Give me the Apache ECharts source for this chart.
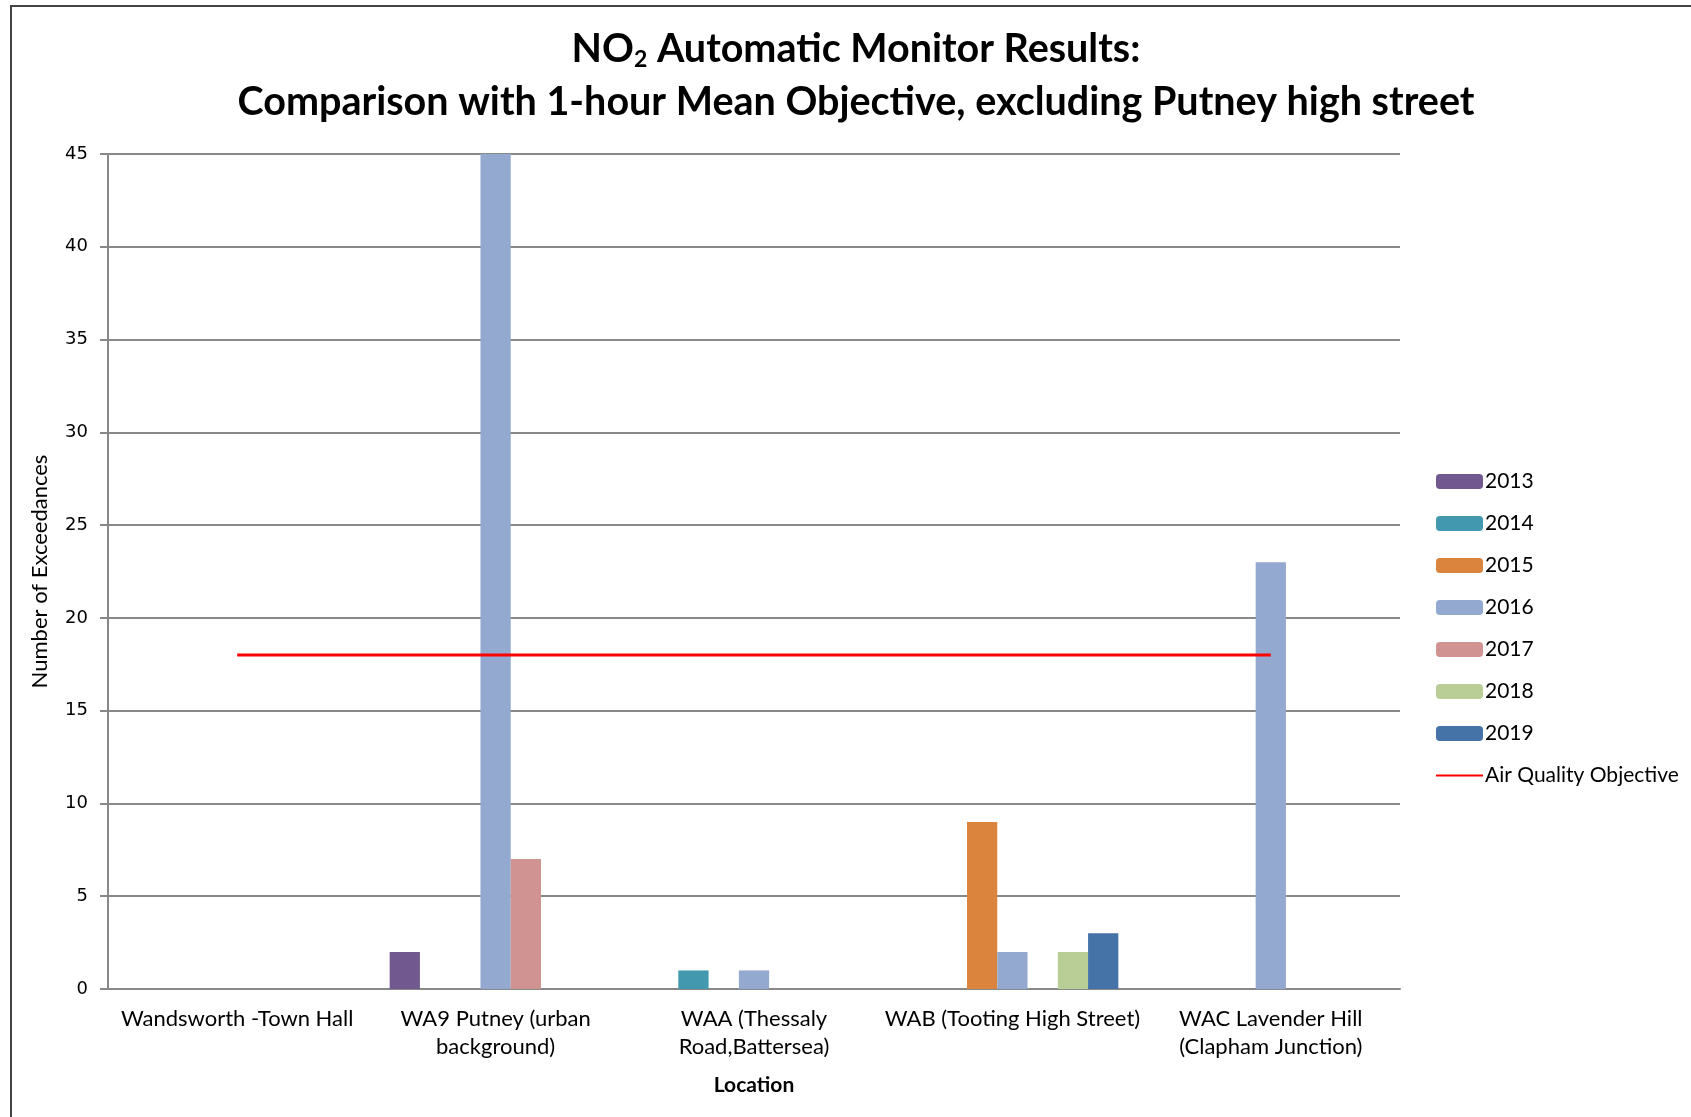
<!DOCTYPE html>
<html>
<head>
<meta charset="utf-8">
<script src="https://cdn.jsdelivr.net/npm/echarts@6/dist/echarts.min.js"></script>
<style>html,body{margin:0;padding:0;background:#fff;}#c{width:1691px;height:1117px;}</style>
</head>
<body>
<div id="c"></div>
<script>
const categories = ['Wandsworth -Town Hall', 'WA9 Putney (urban\nbackground)', 'WAA (Thessaly\nRoad,Battersea)', 'WAB (Tooting High Street)', 'WAC Lavender Hill\n(Clapham Junction)'];
const years = ['2013', '2014', '2015', '2016', '2017', '2018', '2019'];
const v2013 = [null, 2, null, null, null];
const v2014 = [null, null, 1, null, null];
const v2015 = [null, null, null, 9, null];
const v2016 = [null, 45, 1, 2, 23];
const v2017 = [null, 7, null, null, null];
const v2018 = [null, null, null, 2, null];
const v2019 = [null, null, null, 3, null];
const objective = [18, 18, 18, 18, 18];
const yTicks = [0, 5, 10, 15, 20, 25, 30, 35, 40, 45];
const colors = ['#71588F', '#4198AF', '#DB843D', '#93A9CF', '#D19392', '#B9CD96', '#4572A7'];

const seriesValues = [v2013, v2014, v2015, v2016, v2017, v2018, v2019];
const chart = echarts.init(document.getElementById('c'));
const font = 'Lato, "Open Sans", sans-serif';
const series = years.map((y, i) => ({
  name: y, type: 'bar', data: seriesValues[i],
  itemStyle: { color: colors[i] },
  barGap: '0%', barCategoryGap: '18%'
}));
series.push({
  name: 'Air Quality Objective', type: 'line', data: objective,
  symbol: 'none', lineStyle: { color: '#FF0000', width: 3 }, itemStyle: { color: '#FF0000' }
});
chart.setOption({
  animation: false,
  backgroundColor: '#fff',
  graphic: [
    { type: 'rect', shape: { x: 11, y: 6, width: 1700, height: 1130 }, style: { fill: 'none', stroke: '#444', lineWidth: 2 }, silent: true },
    { type: 'text', x: 856, y: 49, silent: true,
      style: { text: '{a|NO}{s|2}{a| Automatic Monitor Results:}', align: 'center', verticalAlign: 'middle',
        rich: { a: { fontFamily: font, fontSize: 39.5, fontWeight: 'bold', fill: '#000' },
                s: { fontFamily: font, fontSize: 23, fontWeight: 'bold', fill: '#000', padding: [22, 0, 0, 0] } } } },
    { type: 'text', x: 856, y: 102, silent: true,
      style: { text: 'Comparison with 1-hour Mean Objective, excluding Putney high street', align: 'center', verticalAlign: 'middle',
        fontFamily: font, fontSize: 39.5, fontWeight: 'bold', fill: '#000' } }
  ],
  legend: {
    orient: 'vertical', left: 1430, top: 466, itemWidth: 47, itemHeight: 15, itemGap: 21,
    data: years.concat([{ name: 'Air Quality Objective', itemStyle: { opacity: 0 } }]),
    textStyle: { fontFamily: font, fontSize: 21, color: '#000', padding: [0, 0, 0, -3] }
  },
  grid: { left: 108, right: 291, top: 154, bottom: 128 },
  xAxis: {
    type: 'category', data: categories,
    name: 'Location', nameLocation: 'middle', nameGap: 86,
    nameTextStyle: { fontFamily: font, fontSize: 21, fontWeight: 'bold', color: '#000' },
    axisLine: { lineStyle: { color: '#888', width: 2 } },
    axisTick: { length: 8, lineStyle: { color: '#888', width: 2 } },
    axisLabel: { fontFamily: font, fontSize: 22, color: '#000', lineHeight: 28, margin: 16, interval: 0 }
  },
  yAxis: {
    type: 'value', min: 0, max: 45, interval: 5,
    name: 'Number of Exceedances', nameLocation: 'middle', nameGap: 57, nameRotate: 90,
    nameTextStyle: { fontFamily: font, fontSize: 22, color: '#000' },
    axisLine: { show: true, lineStyle: { color: '#888', width: 2 } },
    axisTick: { show: true, length: 8, lineStyle: { color: '#888', width: 2 } },
    axisLabel: { fontFamily: '"DejaVu Sans", sans-serif', fontSize: 18, color: '#000', margin: 20,
      formatter: v => yTicks.includes(v) ? String(v) : '' },
    splitLine: { lineStyle: { color: '#888', width: 2 } }
  },
  series: series
});
</script>
</body>
</html>
